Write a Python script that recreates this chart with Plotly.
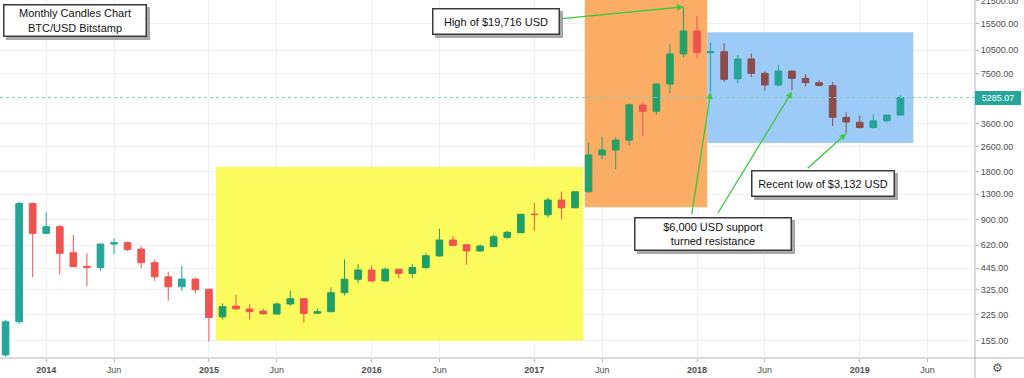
import math
import pandas as pd
import plotly.graph_objects as go

# ---------------- data ----------------
start = pd.Period("2013-10", freq="M")
months = [str(p) for p in pd.period_range("2013-10", "2019-04", freq="M")]

opens = [126, 204, 1135, 736, 811, 556, 456, 448, 630, 643, 586, 481, 392, 339, 379,
         327, 219, 256, 245, 238, 228, 264, 285, 231, 236, 311, 378, 432, 369, 437,
         411, 448, 530, 668, 624, 570, 607, 694, 743, 972, 963, 1194, 1067,
         1346, 2294, 2467, 2852, 4743, 4329, 6430, 9947, 13890,
         10140, 10280, 6930, 9247, 7512, 6340, 7762, 6985, 6560, 6280, 3966, 3690, 3420, 3770, 4100]
highs = [210, 1165, 1150, 1000, 830, 718, 551, 632, 684, 653, 607, 500, 422, 459, 387,
         327, 266, 301, 262, 246, 270, 320, 287, 247, 335, 505, 471, 462, 448, 440,
         471, 551, 787, 708, 626, 628, 723, 764, 975, 1148, 1236, 1346, 1350,
         2743, 2993, 2965, 4860, 4977, 6470, 11450, 19716, 17270,
         11720, 11600, 9790, 10000, 7700, 8500, 7800, 7400, 6800, 6600, 4266, 4060, 4150, 4100, 5460]
lows = [123, 198, 390, 730, 406, 450, 343, 428, 545, 570, 443, 370, 277, 320, 308,
        153, 211, 241, 211, 226, 226, 257, 201, 229, 234, 299, 357, 361, 365, 384,
        385, 438, 525, 612, 469, 565, 603, 679, 740, 763, 927, 902, 1060,
        1340, 2156, 1865, 2640, 3025, 4129, 5620, 9470, 9300,
        5750, 6630, 6500, 7100, 5834, 6200, 5880, 6200, 6200, 3500, 3132, 3370, 3370, 3680, 4080]
closes = [204, 1135, 736, 811, 551, 454, 449, 630, 643, 583, 481, 392, 339, 379, 325,
          217, 254, 246, 236, 229, 264, 285, 230, 236, 311, 378, 432, 369, 437, 411,
          448, 532, 668, 618, 570, 612, 701, 747, 970, 966, 1194, 1067, 1346,
          2294, 2467, 2852, 4762, 4329, 6430, 9947, 13890, 10140,
          10290, 6887, 9247, 7512, 6340, 7762, 6985, 6560, 6300, 3966, 3706, 3420, 3770, 4100, 5285.07]

tick_months = ["2014-01", "2014-06", "2015-01", "2015-06", "2016-01", "2016-06",
               "2017-01", "2017-06", "2018-01", "2018-06", "2019-01", "2019-06"]
tick_labels = ["2014", "Jun", "2015", "Jun", "2016", "Jun", "2017", "Jun", "2018", "Jun", "2019", "Jun"]

price_ticks = [155, 225, 325, 445, 620, 900, 1300, 1800, 2600, 3600, 7500, 10500, 15500, 21500]
last_price = 5285.07

# colour zones (first month, last month, up colour, down colour)
zones = [
    ("2013-10", "2015-01", "#26a69a", "#ef5350"),
    ("2015-02", "2017-04", "#1f9e66", "#ef5350"),
    ("2017-05", "2018-01", "#25a067", "#ef5350"),
    ("2018-02", "2019-04", "#27a398", "#8b4c4c"),
]


def pos(m):
    return (pd.Period(m, freq="M") - start).n


xs = [pos(m) for m in months]

fig = go.Figure()
for z0, z1, up, dn in zones:
    i0, i1 = pos(z0), pos(z1) + 1
    fig.add_trace(go.Candlestick(
        x=xs[i0:i1], open=opens[i0:i1], high=highs[i0:i1], low=lows[i0:i1], close=closes[i0:i1],
        increasing=dict(line=dict(color=up, width=1), fillcolor=up),
        decreasing=dict(line=dict(color=dn, width=1), fillcolor=dn),
        showlegend=False, hoverinfo="skip",
    ))

# highlighted zones (slightly translucent so the grid shows faintly through)
shapes = [
    dict(type="rect", xref="x", yref="y", x0=15.52, x1=42.62, y0=155, y1=1936,
         fillcolor="#fbfb52", opacity=0.93, line=dict(width=0), layer="between"),
    dict(type="rect", xref="x", yref="y", x0=42.72, x1=51.75, y0=1074, y1=40000,
         fillcolor="#fba75a", opacity=0.93, line=dict(width=0), layer="between"),
    dict(type="rect", xref="x", yref="y", x0=51.75, x1=66.95, y0=2729, y1=13625,
         fillcolor="#96c7f8", opacity=0.93, line=dict(width=0), layer="between"),
    # last price dotted line
    dict(type="line", xref="paper", yref="y", x0=0, x1=1, y0=last_price, y1=last_price,
         line=dict(color="#7fcdc5", width=1, dash="dot"), layer="above"),
    # frame lines extending under the price scale
    dict(type="line", xref="paper", yref="paper", x0=0, x1=1.06, y0=0, y1=0,
         line=dict(color="#b2b5be", width=1)),
    dict(type="line", xref="paper", yref="paper", x0=1, x1=1, y0=-0.06, y1=1,
         line=dict(color="#b2b5be", width=1)),
]

W, H = 975.0, 358.0
FONT = "Liberation Sans, Arial, sans-serif"
annotations = []


def box(text, cx, cy, w, h):
    common = dict(xref="paper", yref="paper", x=cx / W, y=1 - cy / H, xanchor="center",
                  yanchor="middle", showarrow=False, text=text, width=w - 3, height=h - 3,
                  borderwidth=1.5, borderpad=0, align="center")
    annotations.append(dict(common, font=dict(family=FONT, size=11, color="rgba(0,0,0,0)"),
                            bgcolor="#a8a8a8", bordercolor="#a8a8a8", xshift=3, yshift=-3))
    annotations.append(dict(common, font=dict(family=FONT, size=11, color="#111"),
                            bgcolor="white", bordercolor="#3a3a3a"))


def arrow(m, price, ax, ay):
    annotations.append(dict(xref="x", yref="y", x=pos(m), y=math.log10(price), text="",
                            showarrow=True, ax=ax, ay=ay, arrowcolor="#3cc83c",
                            arrowwidth=1.3, arrowhead=2, arrowsize=1, standoff=0))


box("Monthly Candles Chart<br>BTC/USD Bitstamp", 75, 20.5, 144, 33)
box("High of $19,716 USD", 496, 22, 128, 27)
box("$6,000 USD support<br>turned resistance", 713, 234, 158, 34)
box("Recent low of $3,132 USD", 823, 183.5, 144, 27)

arrow("2017-12", 19716, -123, 12)
arrow("2018-02", 5700, -19, 123)
arrow("2018-08", 5750, -75, 123)
arrow("2018-12", 3132, -40, 36)

# last price label
annotations.append(dict(xref="paper", yref="y", x=1, y=math.log10(last_price), xanchor="left",
                        yanchor="middle", showarrow=False, text=f"{last_price:.2f}",
                        font=dict(family=FONT, size=9, color="white"), bgcolor="#26a69a",
                        bordercolor="#26a69a", borderwidth=1, borderpad=0, width=44, height=12))
# settings gear
annotations.append(dict(xref="paper", yref="paper", x=997 / W, y=-10 / H, xanchor="center",
                        yanchor="middle", showarrow=False, text="⚙",
                        font=dict(family="DejaVu Sans", size=12, color="#555")))

fig.update_layout(
    width=1024, height=378, autosize=False,
    margin=dict(l=0, r=49, t=0, b=20, pad=0, autoexpand=False),
    paper_bgcolor="white", plot_bgcolor="white",
    shapes=shapes, annotations=annotations,
    boxgap=0.3,
    xaxis=dict(range=[-0.41, 71.5], tickvals=[pos(m) for m in tick_months],
               ticktext=[f"<b>{t}</b>" if t.isdigit() else t for t in tick_labels],
               showgrid=True, gridcolor="#edf1f7", zeroline=False, showline=False,
               ticks="outside", ticklen=3, tickcolor="#b2b5be", automargin=False,
               tickfont=dict(family=FONT, size=9, color="#4d4d4d"),
               rangeslider=dict(visible=False), fixedrange=True),
    yaxis=dict(type="log", range=[2.081, 4.338], side="right",
               tickvals=price_ticks, ticktext=[f"{v:.2f}" for v in price_ticks],
               showgrid=True, gridcolor="#edf1f7", zeroline=False, showline=False,
               ticks="outside", ticklen=3, tickcolor="#b2b5be", ticklabeloverflow="allow",
               automargin=False,
               tickfont=dict(family=FONT, size=9, color="#4d4d4d"), fixedrange=True),
)

fig.write_html("out.html", config={"displayModeBar": False},
               post_script="document.body.style.margin='0px';")
